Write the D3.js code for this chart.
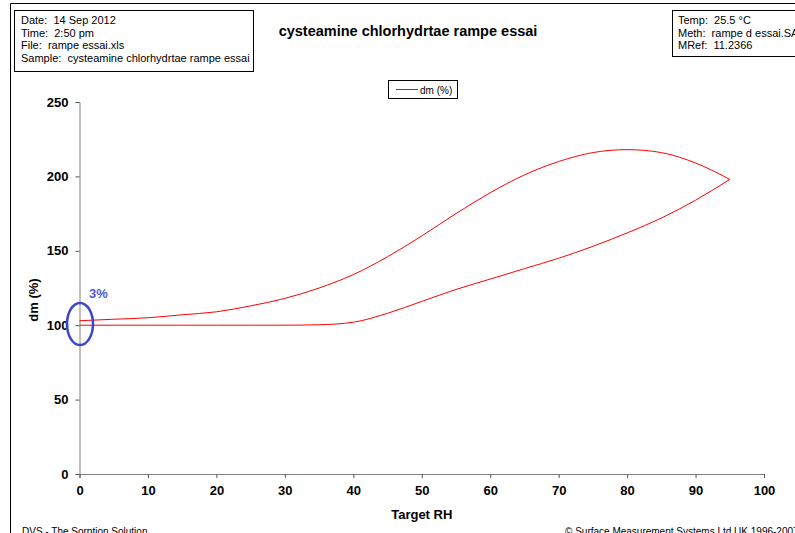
<!DOCTYPE html>
<html><head><meta charset="utf-8">
<script src="https://cdn.jsdelivr.net/npm/d3@7"></script>
<style>body{margin:0;background:#fff;}svg{display:block;font-family:Arial,"Liberation Sans",sans-serif;}text{white-space:pre;}</style>
</head><body>
<svg id="c" width="795" height="533"></svg>
<script>
const title = "cysteamine chlorhydrtae rampe essai";
const infoLeft = ["Date:  14 Sep 2012", "Time:  2:50 pm", "File:  rampe essai.xls", "Sample:  cysteamine chlorhydrtae rampe essai"];
const infoRight = ["Temp:  25.5 °C", "Meth:  rampe d essai.SAO", "MRef:  11.2366"];
const seriesName = "dm (%)";
const xTicks = [0,10,20,30,40,50,60,70,80,90,100];
const yTicks = [0,50,100,150,200,250];
const sorptionRH = [0,5,10,15,20,25,30,35,40,45,50,55,60,65,70,75,80,85,90,95];
const sorptionDm = [100,100,100,100,100,100,100,100.3,102,108,116,124,131,138,145,153,162,172,184,198];
const desorptionRH = [95,90,85,80,75,70,65,60,55,50,45,40,35,30,25,20,15,10,5,0];
const desorptionDm = [198,209,216,218,216,210,201,189,175,160,146,134,125,118,113,109,107,105,104,103];

const svg = d3.select("#c");
const x = d3.scaleLinear().domain([0,100]).range([79.5,764]);
const y = d3.scaleLinear().domain([0,250]).range([474,102]);

// outer frame
svg.append("path").attr("d","M10.5,533 V3.5 H795").attr("fill","none").attr("stroke","#000").attr("stroke-width",1);

// info boxes
const lb = svg.append("g");
lb.append("rect").attr("x",14.5).attr("y",10.5).attr("width",239).attr("height",61).attr("fill","#fff").attr("stroke","#000");
infoLeft.forEach((t,i)=>lb.append("text").attr("x",21).attr("y",24+i*12.5).attr("font-size",11).text(t));
const rb = svg.append("g");
rb.append("rect").attr("x",672.5).attr("y",10.5).attr("width",130).attr("height",46).attr("fill","#fff").attr("stroke","#000");
infoRight.forEach((t,i)=>rb.append("text").attr("x",678).attr("y",24+i*12.5).attr("font-size",11).text(t));

// title
svg.append("text").attr("x",408).attr("y",36).attr("text-anchor","middle").attr("font-size",14.5).attr("font-weight","bold").text(title);

// legend
svg.append("rect").attr("x",388.5).attr("y",80.5).attr("width",69).attr("height",18).attr("fill","#fff").attr("stroke","#000");
svg.append("line").attr("x1",396).attr("x2",418).attr("y1",89.5).attr("y2",89.5).attr("stroke","#ff0000");
svg.append("text").attr("x",420).attr("y",93.5).attr("font-size",10).text(seriesName);

// axes
const xAxis = svg.append("g").attr("transform",`translate(0,${y(0)})`)
  .call(d3.axisBottom(x).tickValues(xTicks).tickSize(4).tickSizeOuter(4).tickPadding(8));
const yAxis = svg.append("g").attr("transform",`translate(${x(0)},0)`)
  .call(d3.axisLeft(y).tickValues(yTicks).tickSize(4).tickSizeOuter(4).tickPadding(7));
[xAxis,yAxis].forEach(a=>{
  a.select(".domain").attr("stroke","#7f7f7f");
  a.selectAll(".tick line").attr("stroke","#555");
  a.selectAll("text").attr("font-size",13).attr("font-weight","bold").attr("fill","#000").attr("font-family","Arial, 'Liberation Sans', sans-serif");
});

// axis titles
svg.append("text").attr("x",x(50)).attr("y",519).attr("text-anchor","middle").attr("font-size",13).attr("font-weight","bold").text("Target RH");
svg.append("text").attr("transform",`translate(38,${y(125)+12}) rotate(-90)`).attr("text-anchor","middle").attr("font-size",13).attr("font-weight","bold").text("dm (%)");

// data lines
const line = d3.line().x(d=>x(d[0])).y(d=>y(d[1])).curve(d3.curveMonotoneX);
const sorp = sorptionRH.map((r,i)=>[r,sorptionDm[i]]);
const desorp = desorptionRH.map((r,i)=>[r,desorptionDm[i]]).reverse();
svg.append("path").attr("d",line(sorp)).attr("fill","none").attr("stroke","#ff0000").attr("stroke-width",1);
svg.append("path").attr("d",line(desorp)).attr("fill","none").attr("stroke","#ff0000").attr("stroke-width",1);

// annotation
svg.append("ellipse").attr("cx",x(0)+0.5).attr("cy",324).attr("rx",13).attr("ry",21).attr("fill","none").attr("stroke","#3a46d0").attr("stroke-width",2.5);
svg.append("text").attr("x",89).attr("y",298).attr("font-size",13).attr("font-weight","bold").attr("fill","#4f5bd5").text("3%");

// footer
svg.append("text").attr("x",22).attr("y",535).attr("font-size",10).text("DVS - The Sorption Solution");
svg.append("text").attr("x",565).attr("y",535).attr("font-size",10).text("© Surface Measurement Systems Ltd UK 1996-2007");
</script>
</body></html>
